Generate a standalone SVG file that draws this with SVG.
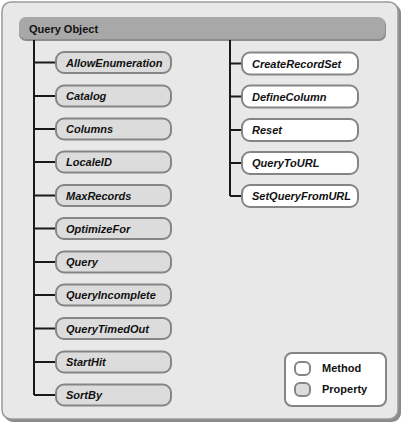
<svg xmlns="http://www.w3.org/2000/svg" width="404" height="425" viewBox="0 0 404 425">
<style>
.lbl{font-family:"Liberation Sans",Arial,sans-serif;font-size:11px;font-weight:bold;font-style:italic;fill:#111}
.hdr{font-family:"Liberation Sans",Arial,sans-serif;font-size:11px;font-weight:bold;fill:#111}
.prop{fill:#dcdcdc;stroke:#858585;stroke-width:2}
.meth{fill:#ffffff;stroke:#858585;stroke-width:2}
.conn{fill:none;stroke:#1a1a1a;stroke-width:2}
</style>
<rect x="4" y="4" width="397" height="418" rx="9" fill="#8a8a8a"/>
<rect x="2" y="2" width="396" height="417" rx="9" fill="#e8e8e8" stroke="#9a9a9a" stroke-width="1.5"/>
<g id="header">
<rect x="19" y="18" width="367" height="23" rx="7" fill="#8c8c8c"/>
<rect x="19" y="17" width="366" height="22" rx="7" fill="#a8a8a8"/>
<text class="hdr" x="29" y="33">Query Object</text>
</g>
<g id="connectors">
<path class="conn" d="M34 40 V395 M34 62.5 H56 M34 96 H56 M34 129 H56 M34 162 H56 M34 195.5 H56 M34 228.5 H56 M34 262 H56 M34 295 H56 M34 328.5 H56 M34 362 H56 M34 395 H56"/>
<path class="conn" d="M230 40 V196 M230 63.5 H242 M230 96.5 H242 M230 130 H242 M230 163 H242 M230 196 H242"/>
</g>
<g id="AllowEnumeration"><rect class="prop" x="56" y="52" width="115" height="21" rx="8"/><text class="lbl" x="66" y="66.5">AllowEnumeration</text></g>
<g id="Catalog"><rect class="prop" x="56" y="85.5" width="115" height="21" rx="8"/><text class="lbl" x="66" y="100">Catalog</text></g>
<g id="Columns"><rect class="prop" x="56" y="118.5" width="115" height="21" rx="8"/><text class="lbl" x="66" y="133">Columns</text></g>
<g id="LocaleID"><rect class="prop" x="56" y="151.5" width="115" height="21" rx="8"/><text class="lbl" x="66" y="166">LocaleID</text></g>
<g id="MaxRecords"><rect class="prop" x="56" y="185" width="115" height="21" rx="8"/><text class="lbl" x="66" y="199.5">MaxRecords</text></g>
<g id="OptimizeFor"><rect class="prop" x="56" y="218" width="115" height="21" rx="8"/><text class="lbl" x="66" y="232.5">OptimizeFor</text></g>
<g id="Query"><rect class="prop" x="56" y="251.5" width="115" height="21" rx="8"/><text class="lbl" x="66" y="266">Query</text></g>
<g id="QueryIncomplete"><rect class="prop" x="56" y="284.5" width="115" height="21" rx="8"/><text class="lbl" x="66" y="299">QueryIncomplete</text></g>
<g id="QueryTimedOut"><rect class="prop" x="56" y="318" width="115" height="21" rx="8"/><text class="lbl" x="66" y="332.5">QueryTimedOut</text></g>
<g id="StartHit"><rect class="prop" x="56" y="351.5" width="115" height="21" rx="8"/><text class="lbl" x="66" y="366">StartHit</text></g>
<g id="SortBy"><rect class="prop" x="56" y="384.5" width="115" height="21" rx="8"/><text class="lbl" x="66" y="399">SortBy</text></g>
<g id="CreateRecordSet"><rect class="meth" x="242" y="52.5" width="116" height="22" rx="8"/><text class="lbl" x="252" y="67.5">CreateRecordSet</text></g>
<g id="DefineColumn"><rect class="meth" x="242" y="85.5" width="116" height="22" rx="8"/><text class="lbl" x="252" y="100.5">DefineColumn</text></g>
<g id="Reset"><rect class="meth" x="242" y="119" width="116" height="22" rx="8"/><text class="lbl" x="252" y="134">Reset</text></g>
<g id="QueryToURL"><rect class="meth" x="242" y="152" width="116" height="22" rx="8"/><text class="lbl" x="252" y="167">QueryToURL</text></g>
<g id="SetQueryFromURL"><rect class="meth" x="242" y="185" width="116" height="22" rx="8"/><text class="lbl" x="252" y="200">SetQueryFromURL</text></g>
<g id="legend">
<rect x="285" y="353" width="101" height="53" rx="7" fill="#ffffff" stroke="#858585" stroke-width="2"/>
<rect class="meth" x="295" y="362" width="15" height="13" rx="5"/>
<rect class="prop" x="295" y="383" width="15" height="13" rx="5"/>
<text class="hdr" x="322" y="372">Method</text>
<text class="hdr" x="322" y="393">Property</text>
</g>
</svg>
